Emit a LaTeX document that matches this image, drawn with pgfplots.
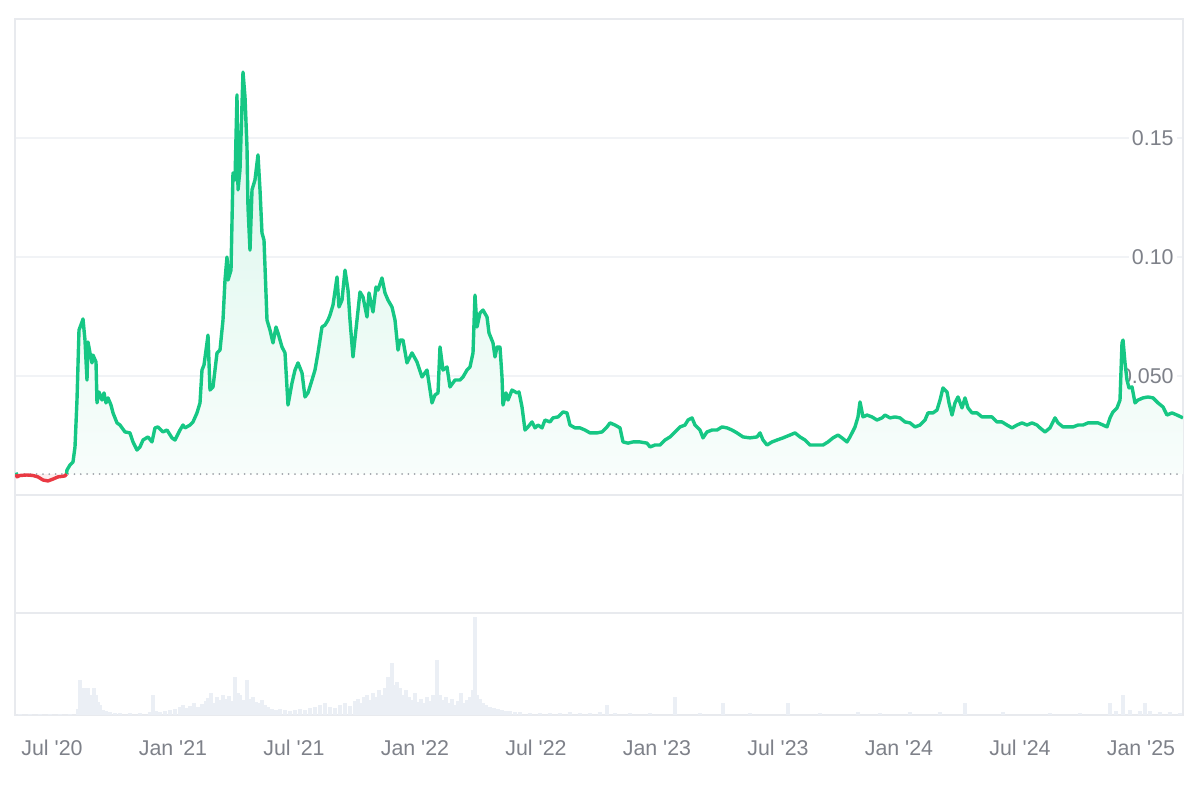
\documentclass[border=0pt]{standalone}
\usepackage{fontspec}
\setmainfont{Liberation Sans}
\usepackage{pgfplots}
\pgfplotsset{compat=1.18}
\definecolor{upgreen}{HTML}{16C784}
\definecolor{downred}{HTML}{EA3943}
\definecolor{gridc}{HTML}{F1F3F6}
\definecolor{framec}{HTML}{E8EAEE}
\definecolor{labc}{HTML}{7E8189}
\definecolor{volc}{HTML}{EBEFF5}
\definecolor{dotc}{HTML}{A0A4AA}

\pgfplotstableread{
m v
6.950 0.0088
6.974 0.0105
7.128 0.0126
7.282 0.0139
7.385 0.0202
7.487 0.0399
7.590 0.0693
7.744 0.0727
7.795 0.0740
7.897 0.0651
8.000 0.0483
8.051 0.0643
8.154 0.0597
8.256 0.0555
8.308 0.0588
8.462 0.0559
8.513 0.0387
8.615 0.0433
8.769 0.0399
8.872 0.0429
8.974 0.0387
9.077 0.0408
9.231 0.0378
9.333 0.0345
9.538 0.0303
9.692 0.0294
9.949 0.0265
10.205 0.0261
10.359 0.0223
10.564 0.0189
10.718 0.0202
10.872 0.0231
11.128 0.0244
11.333 0.0223
11.487 0.0282
11.641 0.0286
11.897 0.0265
12.103 0.0273
12.359 0.0240
12.513 0.0231
12.769 0.0273
12.923 0.0294
13.026 0.0282
13.282 0.0294
13.436 0.0307
13.641 0.0345
13.795 0.0387
13.897 0.0525
14.000 0.0546
14.154 0.0639
14.205 0.0672
14.308 0.0441
14.462 0.0454
14.667 0.0597
14.821 0.0609
14.974 0.0735
15.077 0.0903
15.179 0.1000
15.231 0.0903
15.385 0.0945
15.487 0.1353
15.590 0.1324
15.692 0.1681
15.744 0.1282
15.846 0.1366
16.000 0.1777
16.103 0.1672
16.205 0.1462
16.256 0.1210
16.359 0.1029
16.462 0.1282
16.615 0.1324
16.769 0.1429
16.872 0.1282
16.974 0.1101
17.077 0.1071
17.231 0.0735
17.385 0.0693
17.538 0.0639
17.692 0.0706
17.795 0.0681
18.000 0.0622
18.154 0.0597
18.308 0.0378
18.513 0.0471
18.667 0.0525
18.821 0.0555
19.026 0.0513
19.179 0.0412
19.333 0.0429
19.538 0.0483
19.692 0.0525
19.846 0.0597
20.051 0.0706
20.205 0.0714
20.359 0.0735
20.462 0.0756
20.615 0.0798
20.821 0.0916
20.923 0.0790
21.077 0.0819
21.231 0.0945
21.385 0.0861
21.487 0.0735
21.641 0.0580
21.846 0.0735
22.000 0.0853
22.154 0.0832
22.359 0.0748
22.462 0.0849
22.667 0.0769
22.821 0.0874
22.923 0.0861
23.128 0.0912
23.282 0.0849
23.436 0.0819
23.641 0.0790
23.795 0.0735
23.949 0.0609
24.051 0.0651
24.205 0.0651
24.410 0.0555
24.667 0.0597
24.923 0.0559
25.179 0.0496
25.436 0.0525
25.692 0.0387
25.846 0.0420
26.000 0.0429
26.103 0.0622
26.256 0.0525
26.462 0.0538
26.615 0.0454
26.872 0.0483
27.128 0.0483
27.282 0.0496
27.487 0.0525
27.641 0.0538
27.795 0.0597
27.897 0.0840
28.000 0.0706
28.154 0.0765
28.308 0.0777
28.513 0.0748
28.615 0.0681
28.821 0.0639
28.923 0.0580
29.026 0.0622
29.179 0.0622
29.282 0.0496
29.333 0.0378
29.487 0.0429
29.590 0.0399
29.795 0.0441
30.051 0.0429
30.154 0.0433
30.308 0.0370
30.462 0.0273
30.615 0.0286
30.821 0.0307
30.974 0.0282
31.128 0.0294
31.333 0.0282
31.487 0.0315
31.744 0.0307
31.897 0.0324
32.154 0.0328
32.410 0.0349
32.615 0.0345
32.769 0.0294
33.026 0.0282
33.282 0.0282
33.538 0.0273
33.795 0.0261
34.154 0.0261
34.410 0.0265
34.667 0.0286
34.821 0.0303
35.077 0.0294
35.333 0.0282
35.487 0.0223
35.744 0.0218
36.000 0.0223
36.359 0.0223
36.718 0.0218
36.872 0.0202
37.128 0.0210
37.385 0.0210
37.641 0.0231
37.897 0.0244
38.154 0.0265
38.410 0.0286
38.667 0.0294
38.821 0.0315
39.026 0.0324
39.179 0.0294
39.436 0.0273
39.590 0.0240
39.795 0.0265
40.051 0.0273
40.308 0.0273
40.564 0.0286
40.821 0.0282
41.077 0.0273
41.333 0.0261
41.641 0.0244
42.000 0.0240
42.359 0.0244
42.513 0.0261
42.667 0.0231
42.872 0.0210
43.128 0.0223
43.385 0.0231
43.692 0.0240
44.051 0.0252
44.308 0.0261
44.564 0.0244
44.821 0.0231
45.077 0.0210
45.436 0.0210
45.744 0.0210
46.000 0.0223
46.256 0.0240
46.513 0.0252
46.718 0.0240
46.974 0.0223
47.128 0.0244
47.385 0.0286
47.538 0.0328
47.641 0.0391
47.795 0.0328
48.000 0.0336
48.256 0.0328
48.513 0.0315
48.769 0.0324
48.923 0.0336
49.179 0.0324
49.436 0.0328
49.692 0.0324
49.949 0.0307
50.205 0.0303
50.462 0.0286
50.718 0.0294
50.974 0.0315
51.128 0.0345
51.385 0.0345
51.590 0.0357
51.744 0.0399
51.897 0.0450
52.103 0.0433
52.205 0.0387
52.359 0.0336
52.513 0.0387
52.667 0.0412
52.872 0.0366
53.026 0.0408
53.179 0.0366
53.385 0.0345
53.641 0.0345
53.897 0.0328
54.154 0.0328
54.410 0.0328
54.667 0.0307
54.923 0.0307
55.179 0.0294
55.436 0.0282
55.692 0.0294
55.949 0.0303
56.205 0.0294
56.462 0.0303
56.718 0.0294
56.872 0.0282
57.128 0.0265
57.385 0.0282
57.641 0.0324
57.795 0.0303
58.051 0.0286
58.308 0.0286
58.564 0.0286
58.821 0.0294
59.077 0.0294
59.333 0.0303
59.590 0.0303
59.846 0.0303
60.103 0.0294
60.308 0.0286
60.462 0.0324
60.615 0.0349
60.821 0.0366
60.974 0.0399
61.077 0.0639
61.128 0.0651
61.231 0.0555
61.333 0.0483
61.436 0.0450
61.590 0.0454
61.744 0.0387
61.897 0.0399
62.154 0.0408
62.410 0.0412
62.667 0.0408
62.923 0.0387
63.179 0.0370
63.385 0.0336
63.641 0.0345
63.897 0.0336
64.205 0.0324
}\greendata

\pgfplotstableread{
m v
4.380 0.0088
4.410 0.0076
4.564 0.0082
4.923 0.0084
5.231 0.0082
5.487 0.0076
5.744 0.0063
6.000 0.0059
6.256 0.0067
6.513 0.0076
6.872 0.0080
6.950 0.0088
}\reddata

\pgfplotstableread{
m v
4.564 1
5.077 1
5.590 1
6.103 1
6.615 1
7.128 1.5
7.538 6
7.641 35
7.744 27
7.846 22
7.949 27
8.051 27
8.154 20
8.256 14
8.359 27
8.462 20
8.564 13
8.667 10
8.821 5
8.974 4
9.179 3
9.436 2
9.692 2
10.205 2
10.718 2
11.231 3
11.385 20
11.538 4
11.744 3
12.000 4
12.256 5
12.513 6
12.769 8
12.923 10
13.077 7
13.282 9
13.487 12
13.692 8
13.897 11
14.103 14
14.205 17
14.359 22
14.513 12
14.667 18
14.821 15
14.974 20
15.128 16
15.282 19
15.436 14
15.590 38
15.744 22
15.846 20
16.000 15
16.205 35
16.359 16
16.513 18
16.667 13
16.821 12
16.974 15
17.128 10
17.282 8
17.487 6
17.692 5
17.897 6
18.154 5
18.410 4
18.667 5
18.923 6
19.179 5
19.436 7
19.692 8
19.949 10
20.205 12
20.462 8
20.718 7
20.974 10
21.231 12
21.487 9
21.744 14
21.897 16
22.051 12
22.205 18
22.359 20
22.513 15
22.667 22
22.821 18
22.974 25
23.128 20
23.282 27
23.436 38
23.538 24
23.641 52
23.744 30
23.897 33
24.051 27
24.205 20
24.359 25
24.513 18
24.667 15
24.821 22
24.974 13
25.128 16
25.282 12
25.436 18
25.590 14
25.744 20
25.949 55
26.103 20
26.256 15
26.410 18
26.564 12
26.718 16
26.872 10
27.026 14
27.179 22
27.333 12
27.487 15
27.641 18
27.795 25
27.897 98
28.000 20
28.154 16
28.308 12
28.462 10
28.667 8
28.872 7
29.077 6
29.282 5
29.487 4
29.692 4
29.949 3
30.205 3
30.718 2
31.231 2
31.744 2
32.256 2
32.769 3
33.282 2
33.795 2
34.308 3
34.667 10
35.077 2
35.846 2
36.872 2
38.154 18
39.436 2
40.615 12
42.000 2
43.949 12
45.590 2
47.538 3
48.667 2
50.205 3
51.744 3
53.026 12
54.974 3
57.385 2
58.923 2
60.462 12
60.769 4
61.128 20
61.487 5
62.000 4
62.256 12
62.513 4
63.026 3
63.538 3
64.051 2
}\voldata

\begin{document}
\begin{tikzpicture}
\draw[framec, line width=0.6pt] (7.5pt,152.5pt) -- (7.5pt,93.5pt);
\draw[framec, line width=0.6pt] (591.5pt,152.5pt) -- (591.5pt,93.5pt);

\begin{axis}[
  at={(7.5pt,152.5pt)}, anchor=south west, scale only axis,
  width=584pt, height=238pt,
  xmin=4.308, xmax=64.205, ymin=0, ymax=0.2,
  set layers,
  axis line style={draw=framec, line width=0.6pt},
  xtick=\empty,
  ytick={0.05,0.1,0.15},
  yticklabels={0.050,0.10,0.15},
  ymajorgrids, grid style={draw=gridc, line width=0.6pt},
  major tick length=0pt,
  yticklabel pos=right,
  yticklabel style={anchor=east, xshift=-3pt, fill=white, inner sep=1.5pt,
    font=\fontsize{10.7}{12}\selectfont, text=labc},
]
\addplot[top color=upgreen!17!white, bottom color=upgreen!3!white, draw=none, forget plot]
  table[x=m,y=v] {\greendata} -- (axis cs:64.205,0.0088) -- cycle;
\addplot[fill=downred!8!white, draw=none, forget plot]
  table[x=m,y=v] {\reddata} -- cycle;
\addplot[draw=dotc, line width=1pt, line cap=round, dash pattern=on 0pt off 3.15pt] coordinates {(4.45,0.0088) (64.205,0.0088)};
\addplot[upgreen, line width=1.7pt, line join=round] table[x=m,y=v] {\greendata};
\addplot[downred, line width=1.7pt, line join=round] table[x=m,y=v] {\reddata};
\addplot[upgreen, line width=1.7pt] coordinates {(4.36,0.0094) (4.38,0.0088)};
\end{axis}

\begin{axis}[
  at={(7.5pt,42.5pt)}, anchor=south west, scale only axis,
  width=584pt, height=51pt,
  xmin=4.308, xmax=64.205, ymin=0, ymax=102,
  axis line style={draw=framec, line width=0.6pt},
  ytick=\empty,
  major tick length=0pt,
  xtick={6.205,12.41,18.615,24.82,31.025,37.23,43.435,49.64,55.845,62.05},
  xticklabels={Jul \textquotesingle20, Jan \textquotesingle21, Jul \textquotesingle21, Jan \textquotesingle22, Jul \textquotesingle22, Jan \textquotesingle23, Jul \textquotesingle23, Jan \textquotesingle24, Jul \textquotesingle24, Jan \textquotesingle25},
  xticklabel style={anchor=center, yshift=-16.5pt, font=\fontsize{10.7}{12}\selectfont, text=labc},
]
\addplot[ycomb, draw=volc, line width=1.6pt] table[x=m,y=v] {\voldata};
\end{axis}
\path (0,0) rectangle (600pt,400pt);
\end{tikzpicture}
\end{document}
